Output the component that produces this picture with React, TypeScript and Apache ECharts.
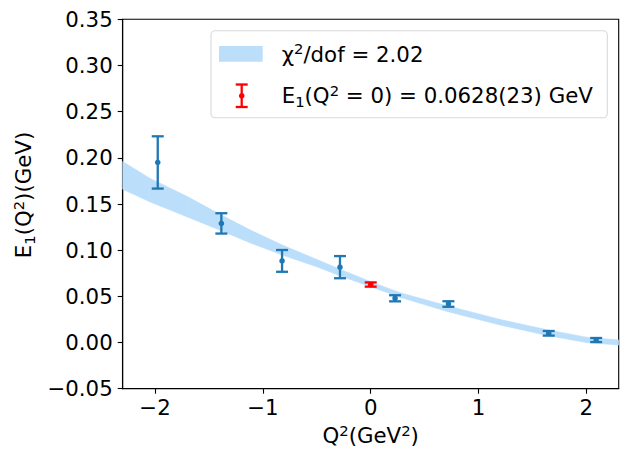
import React, { useEffect, useRef } from "react";
import * as echarts from "echarts";

// ---- data ----
const ptsQ2 = [-1.975, -1.385, -0.822, -0.285, 0.226, 0.721, 1.651, 2.091];
const ptsE = [0.195, 0.129, 0.0884, 0.0816, 0.0479, 0.0417, 0.01, 0.0027];
const ptsErr = [0.0283, 0.011, 0.0118, 0.012, 0.0033, 0.003, 0.0025, 0.0022];

const e0Q2 = [0];
const e0Val = [0.0628];
const e0Err = [0.0023];

const bandQ2 = [-2.3, -2.05, -1.7, -1.385, -1.12, -0.82, -0.5, -0.285, 0, 0.272, 0.718, 1.2, 1.648, 2.0, 2.3];
const bandLo = [0.166, 0.1525, 0.136, 0.121, 0.108, 0.0948, 0.082, 0.0722, 0.0605, 0.049, 0.0334, 0.019, 0.0074, 0.0, -0.0027];
const bandHi = [0.196, 0.178, 0.158, 0.138, 0.122, 0.1055, 0.09, 0.0794, 0.0659, 0.054, 0.0395, 0.025, 0.0135, 0.0058, 0.0027];

const xTickValues = [-2, -1, 0, 1, 2];
const yMin = -0.05;
const yMax = 0.35;
const yStep = 0.05;

const legendFit = "χ²/dof = 2.02";
const legendPoint = "E₁(Q² = 0) = 0.0628(23) GeV";

const FONT = "DejaVu Sans";
const FS = 21.3;
const BLUE = "#1f77b4";
const RED = "#ff0000";
const BAND = "#bbdefb";

function minus(s: string) {
  return s.replace("-", "\u2212");
}

function errRender(color: string) {
  return (params: any, api: any) => {
    const x = api.value(0);
    const y = api.value(1);
    const e = api.value(2);
    const c = api.coord([x, y]);
    const t = api.coord([x, y + e]);
    const b = api.coord([x, y - e]);
    const w = 6;
    const ls = { stroke: color, lineWidth: 2.3 };
    return {
      type: "group",
      children: [
        { type: "line", shape: { x1: c[0], y1: t[1], x2: c[0], y2: b[1] }, style: ls },
        { type: "line", shape: { x1: c[0] - w, y1: t[1], x2: c[0] + w, y2: t[1] }, style: ls },
        { type: "line", shape: { x1: c[0] - w, y1: b[1], x2: c[0] + w, y2: b[1] }, style: ls },
        { type: "circle", shape: { cx: c[0], cy: c[1], r: 2.8 }, style: { fill: color } },
      ],
    };
  };
}

function bandRender(params: any, api: any) {
  const q0 = api.value(0);
  const lo0 = api.value(1);
  const hi0 = api.value(2);
  const q1 = api.value(3);
  const lo1 = api.value(4);
  const hi1 = api.value(5);
  const pts = [
    api.coord([q0, hi0]),
    api.coord([q1, hi1]),
    api.coord([q1, lo1]),
    api.coord([q0, lo0]),
  ];
  return {
    type: "polygon",
    shape: { points: pts },
    style: { fill: BAND, stroke: BAND, lineWidth: 0.6 },
  };
}

const richAxis = {
  n: { fontSize: FS, fontFamily: FONT, color: "#000", lineHeight: 26 },
  sup: { fontSize: 14.8, fontFamily: FONT, color: "#000", lineHeight: 17, verticalAlign: "top" },
  sub: { fontSize: 14.8, fontFamily: FONT, color: "#000", lineHeight: 14, verticalAlign: "bottom" },
};
const richG = {
  n: { fontSize: FS, fontFamily: FONT, fill: "#000", lineHeight: 26 },
  sup: { fontSize: 14.8, fontFamily: FONT, fill: "#000", lineHeight: 17, verticalAlign: "top" },
  sub: { fontSize: 14.8, fontFamily: FONT, fill: "#000", lineHeight: 14, verticalAlign: "bottom" },
};

function toRich(s: string) {
  let out = "";
  let buf = "";
  for (const ch of s) {
    if (ch === "²" || ch === "₁") {
      if (buf) out += "{n|" + buf + "}";
      buf = "";
      out += ch === "²" ? "{sup|2}" : "{sub|1}";
    } else buf += ch;
  }
  if (buf) out += "{n|" + buf + "}";
  return out;
}

export default function App() {
  const ref = useRef<HTMLDivElement>(null);
  useEffect(() => {
    if (!ref.current) return;
    const chart = echarts.init(ref.current, null, { renderer: "svg" });
    const bandSegs = bandQ2.slice(0, -1).map((q, i) => [
      q,
      bandLo[i],
      bandHi[i],
      bandQ2[i + 1],
      bandLo[i + 1],
      bandHi[i + 1],
    ]);
    const axisLineStyle = { color: "#000", width: 1.1 };
    const option: any = {
      animation: false,
      grid: {
        left: 122.7,
        right: 9.3,
        top: 19.3,
        bottom: 75.3,
        show: true,
        borderColor: "#000",
        borderWidth: 1.1,
        backgroundColor: "transparent",
      },
      xAxis: {
        type: "value",
        min: -2.3,
        max: 2.3,
        name: toRich("Q²(GeV²)"),
        nameLocation: "middle",
        nameGap: 31,
        nameTextStyle: { rich: richAxis, fontFamily: FONT, fontSize: FS, color: "#000" },
        axisLine: { show: true, onZero: false, lineStyle: axisLineStyle },
        axisTick: { show: true, length: 5, lineStyle: axisLineStyle, customValues: xTickValues },
        axisLabel: {
          customValues: xTickValues,
          margin: 8,
          color: "#000",
          fontFamily: FONT,
          fontSize: FS,
          formatter: (v: number) => minus(String(Math.round(v))),
        },
        splitLine: { show: false },
      },
      yAxis: {
        type: "value",
        min: yMin,
        max: yMax,
        interval: yStep,
        name: toRich("E₁(Q²)(GeV)"),
        nameLocation: "middle",
        nameGap: 84,
        nameTextStyle: { rich: richAxis, fontFamily: FONT, fontSize: FS, color: "#000", padding: [0, 0, 0, 18] },
        axisLine: { show: true, onZero: false, lineStyle: axisLineStyle },
        axisTick: { show: true, length: 5, lineStyle: axisLineStyle },
        axisLabel: {
          margin: 10,
          color: "#000",
          fontFamily: FONT,
          fontSize: FS,
          formatter: (v: number) => minus(v.toFixed(2)),
        },
        splitLine: { show: false },
      },
      series: [
        {
          type: "custom",
          renderItem: bandRender,
          data: bandSegs,
          encode: { x: [0, 3], y: [1, 2, 4, 5] },
          clip: true,
          silent: true,
          z: 1,
        },
        {
          type: "custom",
          renderItem: errRender(BLUE),
          data: ptsQ2.map((q, i) => [q, ptsE[i], ptsErr[i]]),
          encode: { x: 0, y: 1 },
          z: 3,
          silent: true,
        },
        {
          type: "custom",
          renderItem: errRender(RED),
          data: e0Q2.map((q, i) => [q, e0Val[i], e0Err[i]]),
          encode: { x: 0, y: 1 },
          z: 4,
          silent: true,
        },
      ],
      graphic: [
        {
          type: "rect",
          z: 100,
          shape: { x: 211, y: 30.7, width: 396.3, height: 87, r: 4 },
          style: { fill: "rgba(255,255,255,0.8)", stroke: "#d9d9d9", lineWidth: 1.1 },
        },
        {
          type: "rect",
          z: 101,
          shape: { x: 219, y: 46, width: 43.7, height: 15.7 },
          style: { fill: BAND },
        },
        {
          type: "text",
          z: 101,
          x: 281.7,
          y: 54,
          style: { text: toRich(legendFit), rich: richG, fontFamily: FONT, fontSize: FS, fill: "#000", verticalAlign: "middle" },
        },
        { type: "line", z: 102, shape: { x1: 241.7, y1: 84.5, x2: 241.7, y2: 107 }, style: { stroke: RED, lineWidth: 2.3 } },
        { type: "line", z: 102, shape: { x1: 235.7, y1: 84.5, x2: 247.7, y2: 84.5 }, style: { stroke: RED, lineWidth: 2.3 } },
        { type: "line", z: 102, shape: { x1: 235.7, y1: 107, x2: 247.7, y2: 107 }, style: { stroke: RED, lineWidth: 2.3 } },
        { type: "circle", z: 102, shape: { cx: 241.7, cy: 95.8, r: 2.8 }, style: { fill: RED } },
        {
          type: "text",
          z: 101,
          x: 281.7,
          y: 95.5,
          style: { text: toRich(legendPoint), rich: richG, fontFamily: FONT, fontSize: FS, fill: "#000", verticalAlign: "middle" },
        },
      ],
    };
    chart.setOption(option);
    return () => chart.dispose();
  }, []);
  return (
    <div
      ref={ref}
      style={{ position: "absolute", left: 0, top: 0, width: 628, height: 464, background: "#fff" }}
    />
  );
}
